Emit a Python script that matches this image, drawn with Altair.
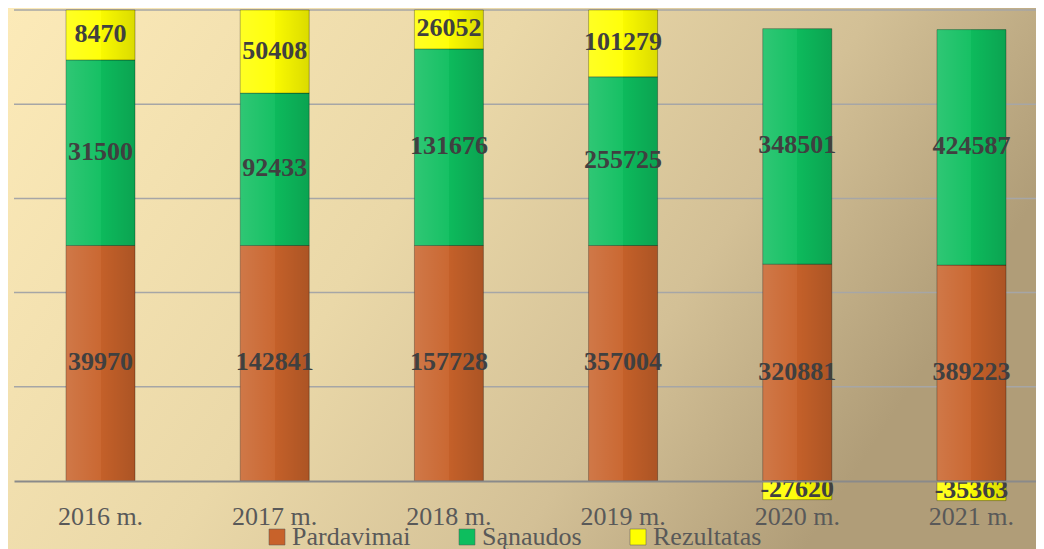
import altair as alt
import pandas as pd

years = ["2016 m.", "2017 m.", "2018 m.", "2019 m.", "2020 m.", "2021 m."]
series_names = ["Pardavimai", "Sąnaudos", "Rezultatas"]
pardavimai = [39970, 142841, 157728, 357004, 320881, 389223]
sanaudos = [31500, 92433, 131676, 255725, 348501, 424587]
rezultatas = [8470, 50408, 26052, 101279, -27620, -35363]
colors = ["#C8622A", "#0DBE5E", "#FFFF00"]
grid_values = [0.2, 0.4, 0.6, 0.8, 1.0]

rows = []
for i, yr in enumerate(years):
    for k, (name, vals) in enumerate(zip(series_names, [pardavimai, sanaudos, rezultatas])):
        rows.append({"year": yr, "series": name, "order": k,
                     "value": vals[i], "label": str(vals[i])})
df = pd.DataFrame(rows)

W, H = 1022, 471
SERIF = "Liberation Serif"

yscale = alt.Scale(domain=[0, 1], nice=False, zero=False)
xscale = alt.Scale(paddingInner=0.604, paddingOuter=0.2355, align=0.634)

bg = alt.Chart(pd.DataFrame({"k": [0]})).mark_rect(
    color=alt.LinearGradient(
        gradient="linear", x1=0, y1=0, x2=1, y2=0.35,
        stops=[alt.GradientStop(offset=0, color="#FCEAB8"),
               alt.GradientStop(offset=0.45, color="#EAD8A8"),
               alt.GradientStop(offset=0.75, color="#D3C096"),
               alt.GradientStop(offset=1, color="#B09D78")]),
).encode(x=alt.value(-6), x2=alt.value(W), y=alt.value(-2), y2=alt.value(H + 72))

grid = alt.Chart(pd.DataFrame({"g": grid_values})).mark_rule(
    color="#A6A6A6", strokeWidth=1.5
).encode(y=alt.Y("g:Q", scale=yscale, axis=None), x=alt.value(0), x2=alt.value(W))

base = alt.Chart(df).transform_calculate(
    absval="abs(datum.value)"
).transform_joinaggregate(
    total="sum(absval)", groupby=["year"]
).transform_calculate(
    frac="datum.value / datum.total"
).transform_stack(
    stack="frac", groupby=["year"], as_=["y0", "y1"],
    sort=[alt.SortField("order")], offset="zero"
).transform_calculate(
    mid="(datum.y0 + datum.y1) / 2"
)

xaxis = alt.Axis(labelFont=SERIF, labelFontSize=26, labelColor="#595959",
                 labelAngle=0, ticks=False, labelPadding=22,
                 domainColor="#8A8A8A", domainWidth=2, zindex=1, grid=False)

bars = base.mark_bar(stroke="#000000", strokeOpacity=0.3, strokeWidth=1).encode(
    x=alt.X("year:N", sort=years, title=None, scale=xscale, axis=xaxis),
    y=alt.Y("y0:Q", scale=yscale, axis=None),
    y2="y1:Q",
    color=alt.Color("series:N", sort=series_names,
                    scale=alt.Scale(domain=series_names, range=colors),
                    legend=alt.Legend(title=None, orient="none", direction="horizontal",
                                      legendX=250, legendY=514,
                                      labelFont=SERIF, labelFontSize=26, labelColor="#595959",
                                      symbolType="square", symbolSize=256,
                                      symbolStrokeColor="#555555", symbolStrokeWidth=0.5,
                                      labelOffset=2, columnPadding=43)),
)

shade = base.mark_bar(
    color=alt.LinearGradient(
        gradient="linear", x1=0, y1=0, x2=1, y2=0,
        stops=[alt.GradientStop(offset=0, color="rgba(255,255,255,0.14)"),
               alt.GradientStop(offset=0.5, color="rgba(255,255,255,0.04)"),
               alt.GradientStop(offset=0.5, color="rgba(0,0,0,0.02)"),
               alt.GradientStop(offset=1, color="rgba(0,0,0,0.14)")]),
).encode(
    x=alt.X("year:N", sort=years, title=None, scale=xscale, axis=xaxis),
    y=alt.Y("y0:Q", scale=yscale, axis=None),
    y2="y1:Q",
)

labels = base.mark_text(font=SERIF, fontSize=26, fontWeight="bold", dy=-1,
                        color="#404040", baseline="middle", align="center").encode(
    x=alt.X("year:N", sort=years, title=None, scale=xscale, axis=xaxis),
    y=alt.Y("mid:Q", scale=yscale, axis=None),
    text="label:N",
)

chart = alt.layer(bg, grid, bars, shade, labels).properties(
    width=W, height=H,
    autosize=alt.AutoSizeParams(type="none"),
    padding={"left": 6, "top": 2, "right": 0, "bottom": 70},
).configure_view(stroke=None)

chart.save("out.html", embed_options={"renderer": "svg", "actions": False})
